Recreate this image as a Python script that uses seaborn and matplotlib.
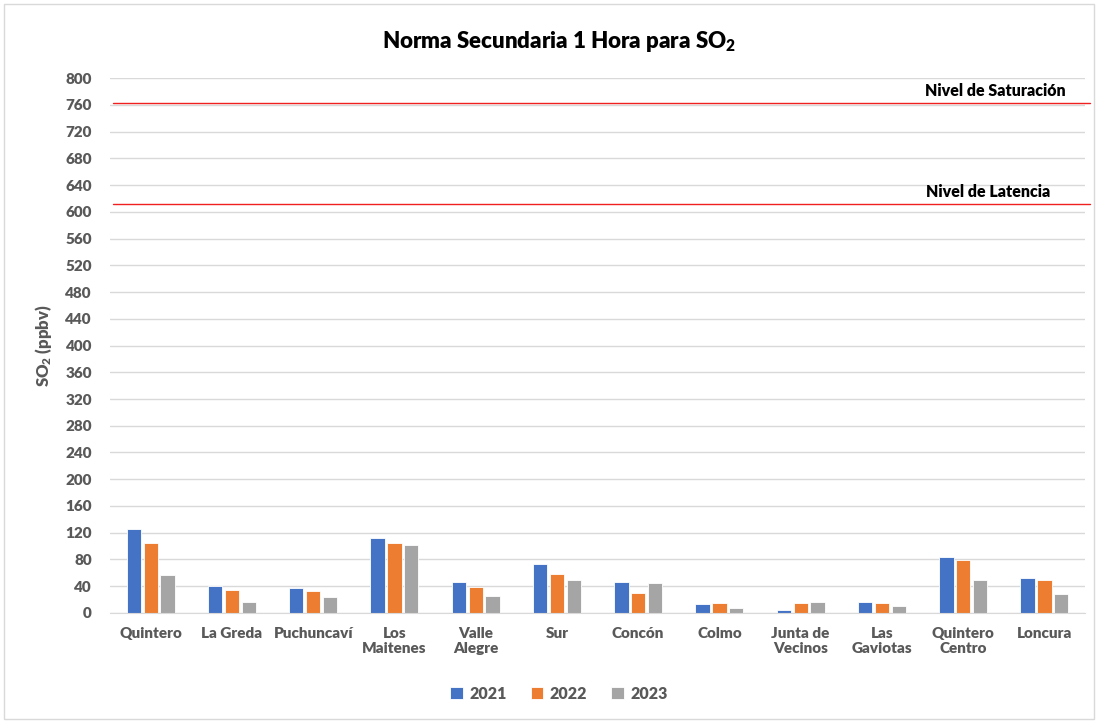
import pandas as pd
import matplotlib
matplotlib.use("Agg")
import matplotlib.pyplot as plt
import matplotlib.patches as mpatches
import seaborn as sns

estaciones = ["Quintero", "La Greda", "Puchuncaví", "Los\nMaitenes", "Valle\nAlegre", "Sur",
              "Concón", "Colmo", "Junta de\nVecinos", "Las\nGaviotas", "Quintero\nCentro", "Loncura"]
so2_2021 = [126, 40.5, 38, 112, 46, 74, 46, 14, 4.5, 16.5, 83, 53]
so2_2022 = [104, 35, 33, 105, 38.5, 59, 30.5, 15, 15, 14.5, 79, 50]
so2_2023 = [57, 16, 23.5, 102, 25, 49, 45, 7, 16, 10, 49, 29]
anios = ["2021", "2022", "2023"]
nivel_saturacion = 763
nivel_latencia = 611

colores = ["#4472C4", "#ED7D31", "#A5A5A5"]
gris_texto = "#595959"

df = pd.DataFrame({"estacion": estaciones * 3,
                   "anio": [a for a in anios for _ in estaciones],
                   "so2": so2_2021 + so2_2022 + so2_2023})

sns.set_style("white")
plt.rcParams['font.family'] = ['Lato', 'DejaVu Sans']
plt.rcParams['font.weight'] = 'heavy'
plt.rcParams['axes.labelweight'] = 'heavy'
plt.rcParams['mathtext.default'] = 'regular'

fig = plt.figure(figsize=(10.98, 7.21), dpi=100)
ax = fig.add_axes([0.1002, 0.1498, 0.8880, 0.7420])

sns.barplot(data=df, x="estacion", y="so2", hue="anio", palette=colores, saturation=1,
            width=0.62, gap=0.15, edgecolor="white", linewidth=0.6, ax=ax, legend=True)

# lineas de norma
ax.axhline(nivel_saturacion, xmin=0.003, xmax=1.005, color="#F02020", lw=1.0, zorder=3, clip_on=False)
ax.axhline(nivel_latencia, xmin=0.003, xmax=1.005, color="#F02020", lw=1.0, zorder=3, clip_on=False)
ax.text(10.39, nivel_saturacion + 6, "Nivel de Saturación", ha="center", va="bottom",
        fontsize=11.5, color="black")
ax.text(10.31, nivel_latencia + 6, "Nivel de Latencia", ha="center", va="bottom",
        fontsize=11.5, color="black")

ax.set_ylim(0, 800)
ax.set_xlim(-0.5, 11.5)
ax.set_yticks(range(0, 801, 40))
ax.yaxis.grid(True, color="#D9D9D9", lw=1)
ax.set_axisbelow(True)
for s in ["top", "right", "left"]:
    ax.spines[s].set_visible(False)
ax.spines["bottom"].set_color("#D9D9D9")
ax.tick_params(axis="both", length=0, labelsize=11, labelcolor=gris_texto)
ax.tick_params(axis="y", pad=13)
ax.tick_params(axis="x", pad=10)
ax.set_xlabel("")
ax.set_ylabel(r"SO$_2$ (ppbv)", fontsize=12, fontweight="heavy", color=gris_texto, labelpad=8)

fig.text(0.509, 0.942, r"Norma Secundaria 1 Hora para SO$_2$", ha="center", va="center",
         fontsize=16, color="black")

handles, labels = ax.get_legend_handles_labels()
ax.get_legend().remove()
leg = fig.legend(handles, labels, loc="center", bbox_to_anchor=(0.509, 0.038), ncol=3, frameon=False,
                 fontsize=11.5, handlelength=0.8, handleheight=0.8, columnspacing=1.5, handletextpad=0.4)
for t in leg.get_texts():
    t.set_color(gris_texto)

fig.patches.append(mpatches.Rectangle((0.004, 0.003), 0.992, 0.992, transform=fig.transFigure,
                                      fill=False, edgecolor="#D9D9D9", lw=1))

fig.savefig("out.png", dpi=100)
